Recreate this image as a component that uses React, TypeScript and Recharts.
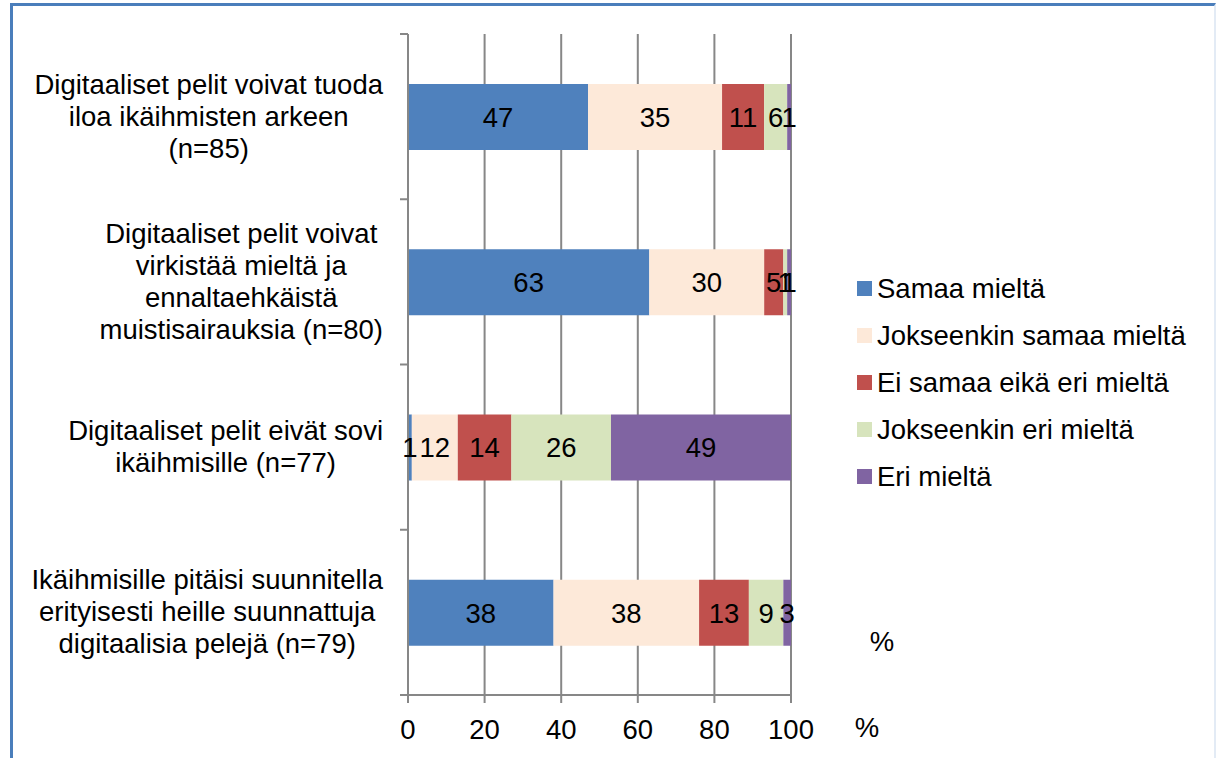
import React from 'react';
import { BarChart, Bar, XAxis, YAxis, CartesianGrid, LabelList, Legend } from 'recharts';

const categories = [
  'Digitaaliset pelit voivat tuoda\niloa ikäihmisten arkeen\n(n=85)',
  'Digitaaliset pelit voivat\nvirkistää mieltä ja\nennaltaehkäistä\nmuistisairauksia (n=80)',
  'Digitaaliset pelit eivät sovi\nikäihmisille (n=77)',
  'Ikäihmisille pitäisi suunnitella\nerityisesti heille suunnattuja\ndigitaalisia pelejä (n=79)',
];
const samaaMielta = [47, 63, 1, 38];
const jokseenkinSamaaMielta = [35, 30, 12, 38];
const eiSamaaEikaEriMielta = [11, 5, 14, 13];
const jokseenkinEriMielta = [6, 1, 26, 9];
const eriMielta = [1, 1, 49, 3];

const seriesNames = ['Samaa mieltä', 'Jokseenkin samaa mieltä', 'Ei samaa eikä eri mieltä', 'Jokseenkin eri mieltä', 'Eri mieltä'];
const seriesKeys = ['s1', 's2', 's3', 's4', 's5'];
const seriesColors = ['#4F81BD', '#FDE9D9', '#C0504D', '#D7E4BD', '#8064A2'];
const xTicks = [0, 20, 40, 60, 80, 100];
const unitLabel = '%';

const seriesValues = [samaaMielta, jokseenkinSamaaMielta, eiSamaaEikaEriMielta, jokseenkinEriMielta, eriMielta];
const data = categories.map((c, i) => {
  const row: Record<string, any> = { name: c };
  seriesKeys.forEach((k, j) => { row[k] = seriesValues[j][i]; });
  return row;
});

const FONT = '"Liberation Sans", Arial, sans-serif';
const FS = 27.5;
const AXIS = '#878787';
const TICK_MARGIN = 25;

let ctx: CanvasRenderingContext2D | null = null;
const measure = (s: string) => {
  if (!ctx) {
    ctx = document.createElement('canvas').getContext('2d');
  }
  if (!ctx) return s.length * FS * 0.5;
  ctx.font = `${FS}px "Liberation Sans", Arial, sans-serif`;
  return ctx.measureText(s).width;
};

const CategoryTick = (props: any) => {
  const { x, y, payload, index, visibleTicksCount, height } = props;
  const lines = String(payload.value).split('\n');
  const maxW = Math.max(...lines.map(measure));
  const cx = x - maxW / 2;
  const n = lines.length;
  const count = visibleTicksCount || categories.length;
  const band = typeof height === 'number' && height > 0 ? height / count : 165.25;
  const axisX = x + TICK_MARGIN;
  return (
    <g>
      <line x1={axisX - 8} x2={axisX} y1={y - band / 2} y2={y - band / 2} stroke={AXIS} strokeWidth={2} />
      {index === count - 1 && (
        <line x1={axisX - 8} x2={axisX} y1={y + band / 2} y2={y + band / 2} stroke={AXIS} strokeWidth={2} />
      )}
      {lines.map((l, i) => (
        <text key={i} x={cx} y={y + 9 + (i - (n - 1) / 2) * 32} textAnchor="middle" fill="#000" fontSize={FS} fontFamily={FONT}>
          {l}
        </text>
      ))}
    </g>
  );
};

const LegendContent = () => (
  <div style={{ fontFamily: FONT, fontSize: FS, color: '#000' }}>
    {seriesNames.map((name, i) => (
      <div key={name} style={{ display: 'flex', alignItems: 'center', height: 47, lineHeight: '47px', whiteSpace: 'nowrap' }}>
        <span style={{ display: 'inline-block', width: 15, height: 15, background: seriesColors[i], marginRight: 5 }} />
        <span>{name}</span>
      </div>
    ))}
  </div>
);

export default function App() {
  return (
    <div style={{ position: 'absolute', left: 0, top: 0, width: 1216, height: 758, overflow: 'hidden', background: '#fff', fontFamily: FONT }}>
      <div style={{ position: 'absolute', left: 10, top: 3, width: 1206, height: 800, boxSizing: 'border-box', borderLeft: '3px solid #4A7EBB', borderTop: '3px solid #4A7EBB', borderRight: '2px solid #E3EBF5' }} />
      <div style={{ position: 'absolute', left: 0, top: 0 }}>
        <BarChart
          width={1216}
          height={758}
          data={data}
          layout="vertical"
          margin={{ top: 34, right: 425, bottom: 23, left: 0 }}
          barSize={66}
          style={{ fontFamily: FONT }}
        >
          <CartesianGrid horizontal={false} vertical stroke={AXIS} strokeWidth={2} />
          <YAxis
            type="category"
            dataKey="name"
            width={408}
            interval={0}
            tickLine={false}
            tickSize={0}
            tickMargin={TICK_MARGIN}
            axisLine={{ stroke: AXIS, strokeWidth: 2 }}
            tick={<CategoryTick />}
          />
          <XAxis
            type="number"
            domain={[0, 100]}
            ticks={xTicks}
            allowDataOverflow
            height={40}
            tickSize={8}
            tickMargin={16}
            axisLine={{ stroke: AXIS, strokeWidth: 2 }}
            tickLine={{ stroke: AXIS, strokeWidth: 2 }}
            tick={{ fill: '#000', fontSize: FS, fontFamily: FONT }}
          />
          <Legend
            layout="horizontal"
            align="center"
            verticalAlign="middle"
            wrapperStyle={{ left: 857, top: 265, width: 358 }}
            content={<LegendContent />}
          />
          {seriesKeys.map((k, j) => (
            <Bar key={k} dataKey={k} name={seriesNames[j]} stackId="a" fill={seriesColors[j]} isAnimationActive={false}>
              <LabelList dataKey={k} position="center" fill="#000" fontSize={FS} fontFamily={FONT} />
            </Bar>
          ))}
        </BarChart>
      </div>
      <svg width={1216} height={758} style={{ position: 'absolute', left: 0, top: 0, pointerEvents: 'none' }}>
        <text x={882} y={651} textAnchor="middle" fontSize={FS} fontFamily={FONT} fill="#000">{unitLabel}</text>
        <text x={867} y={737} textAnchor="middle" fontSize={FS} fontFamily={FONT} fill="#000">{unitLabel}</text>
      </svg>
    </div>
  );
}
